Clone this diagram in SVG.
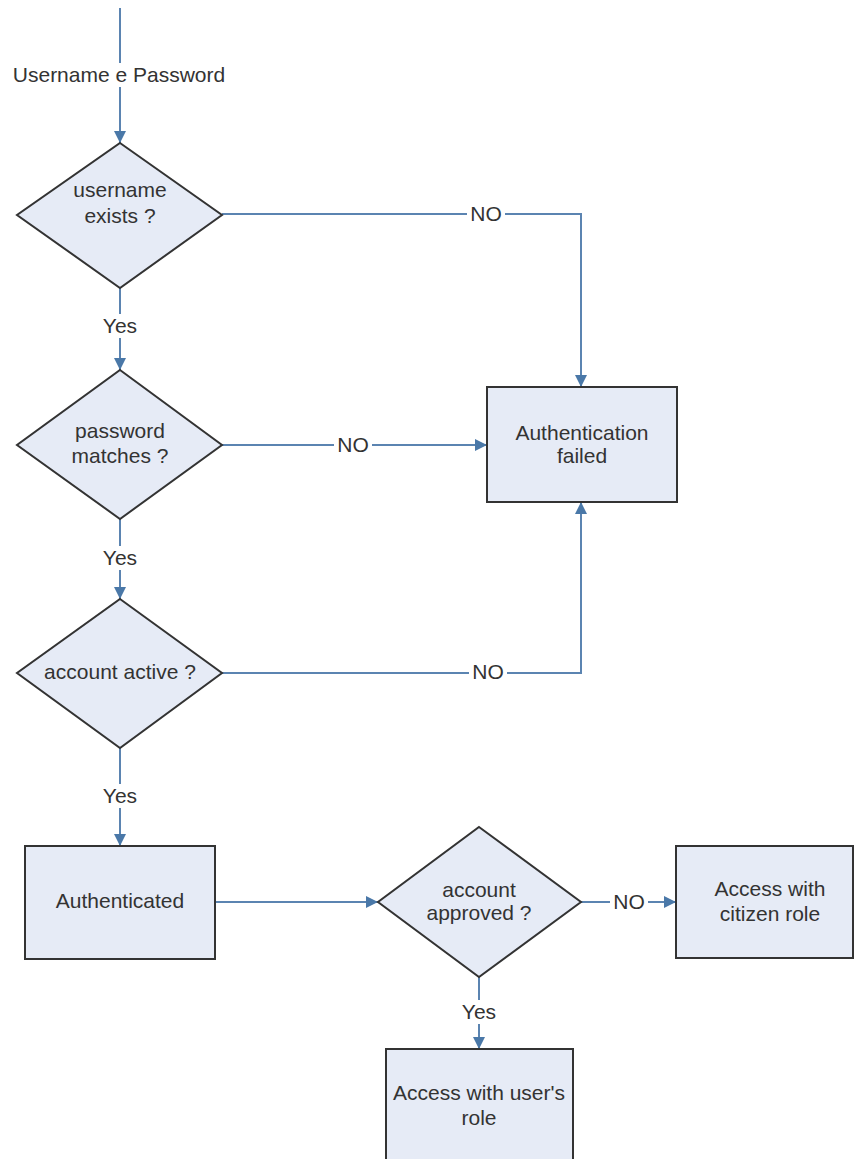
<svg xmlns="http://www.w3.org/2000/svg" width="855" height="1159" viewBox="0 0 855 1159">
<style>
.ln{fill:none;stroke:#5b84b1;stroke-width:2}
.nd{fill:#e6ebf6;stroke:#333;stroke-width:2}
.t{font-family:"Liberation Sans",Arial,sans-serif;font-size:21px;fill:#333;text-anchor:middle}
.bg{fill:#fff}
</style>
<defs>
<marker id="ah" viewBox="0 0 12 12" refX="12" refY="6" markerWidth="12" markerHeight="12" markerUnits="userSpaceOnUse" orient="auto">
<path d="M0,0 L12,6 L0,12 Z" fill="#4a78a8"/>
</marker>
</defs>
<rect width="855" height="1159" fill="#fff"/>
<g id="connectors">
<line class="ln" x1="120" y1="8" x2="120" y2="143" marker-end="url(#ah)"/>
<polyline class="ln" points="222,214 581,214 581,387" marker-end="url(#ah)"/>
<line class="ln" x1="120" y1="288" x2="120" y2="370" marker-end="url(#ah)"/>
<line class="ln" x1="222" y1="445" x2="487" y2="445" marker-end="url(#ah)"/>
<line class="ln" x1="120" y1="519" x2="120" y2="599" marker-end="url(#ah)"/>
<polyline class="ln" points="222,673 581,673 581,502" marker-end="url(#ah)"/>
<line class="ln" x1="120" y1="748" x2="120" y2="846" marker-end="url(#ah)"/>
<line class="ln" x1="215" y1="902" x2="378" y2="902" marker-end="url(#ah)"/>
<line class="ln" x1="581" y1="902" x2="676" y2="902" marker-end="url(#ah)"/>
<line class="ln" x1="479" y1="977" x2="479" y2="1049" marker-end="url(#ah)"/>
<rect class="bg" x="8" y="63" width="224" height="24"/>
<text class="t" x="119" y="82">Username e Password</text>
<rect class="bg" x="467" y="202" width="38" height="24"/>
<text class="t" x="486" y="221">NO</text>
<rect class="bg" x="100" y="314" width="40" height="24"/>
<text class="t" x="120" y="333">Yes</text>
<rect class="bg" x="334" y="433" width="38" height="24"/>
<text class="t" x="353" y="452">NO</text>
<rect class="bg" x="100" y="546" width="40" height="24"/>
<text class="t" x="120" y="565">Yes</text>
<rect class="bg" x="469" y="661" width="38" height="24"/>
<text class="t" x="488" y="679">NO</text>
<rect class="bg" x="100" y="784" width="40" height="24"/>
<text class="t" x="120" y="803">Yes</text>
<rect class="bg" x="610" y="890" width="38" height="24"/>
<text class="t" x="629" y="909">NO</text>
<rect class="bg" x="459" y="1000" width="40" height="24"/>
<text class="t" x="479" y="1019">Yes</text>
</g>
<g id="username-exists">
<polygon class="nd" points="120,143 222,215 120,288 17,215"/>
<text class="t" x="120" y="197">username</text>
<text class="t" x="120" y="223">exists ?</text>
</g>
<g id="password-matches">
<polygon class="nd" points="120,370 222,445 120,519 17,445"/>
<text class="t" x="120" y="438">password</text>
<text class="t" x="120" y="463">matches ?</text>
</g>
<g id="account-active">
<polygon class="nd" points="120,599 222,673 120,748 17,673"/>
<text class="t" x="120" y="679">account active ?</text>
</g>
<g id="authentication-failed">
<rect class="nd" x="487" y="387" width="190" height="115"/>
<text class="t" x="582" y="440">Authentication</text>
<text class="t" x="582" y="463">failed</text>
</g>
<g id="authenticated">
<rect class="nd" x="25" y="846" width="190" height="113"/>
<text class="t" x="120" y="908">Authenticated</text>
</g>
<g id="account-approved">
<polygon class="nd" points="479,827 581,902 479,977 378,902"/>
<text class="t" x="479" y="897">account</text>
<text class="t" x="479" y="920">approved ?</text>
</g>
<g id="citizen-role">
<rect class="nd" x="676" y="846" width="177" height="112"/>
<text class="t" x="770" y="896">Access with</text>
<text class="t" x="770" y="921">citizen role</text>
</g>
<g id="user-role">
<rect class="nd" x="386" y="1049" width="187" height="130"/>
<text class="t" x="479" y="1100">Access with user's</text>
<text class="t" x="479" y="1125">role</text>
</g>
</svg>
